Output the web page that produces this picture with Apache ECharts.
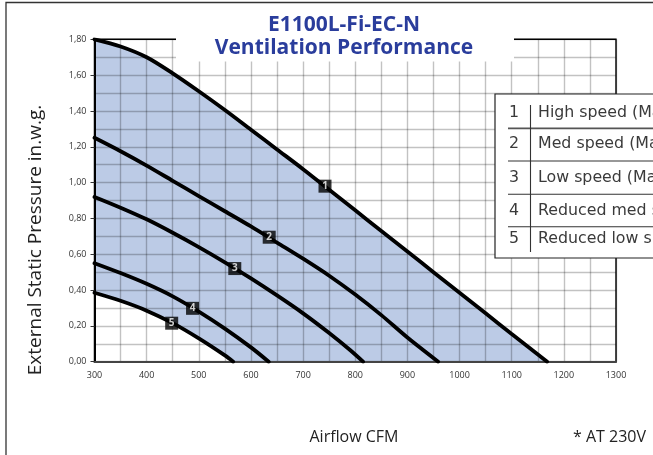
<!DOCTYPE html>
<html><head><meta charset="utf-8">
<script src="https://cdn.jsdelivr.net/npm/echarts@6/dist/echarts.min.js"></script>
<style>html,body{margin:0;padding:0;background:#fff}#c{width:653px;height:455px}</style>
</head><body><div id="c"></div>
<script>
// ---- data ----
const xMin = 300, xMax = 1300, xStep = 100;
const yMin = 0, yMax = 1.8, yStep = 0.2;
const curve1 = [[300,1.80],[350,1.76],[400,1.70],[450,1.61],[500,1.51],[550,1.405],[600,1.295],[650,1.185],[700,1.075],[750,0.96],[800,0.845],[850,0.73],[900,0.615],[950,0.50],[1000,0.385],[1050,0.27],[1100,0.155],[1168,0]];
const curve2 = [[300,1.25],[350,1.175],[400,1.095],[450,1.01],[500,0.925],[550,0.84],[600,0.755],[650,0.665],[700,0.575],[750,0.48],[800,0.375],[850,0.26],[900,0.135],[959,0]];
const curve3 = [[300,0.92],[350,0.86],[400,0.795],[450,0.72],[500,0.64],[550,0.555],[600,0.465],[650,0.37],[700,0.27],[750,0.16],[790,0.065],[815,0]];
const curve4 = [[300,0.55],[350,0.495],[400,0.435],[450,0.365],[500,0.28],[550,0.185],[600,0.08],[634,0]];
const curve5 = [[300,0.385],[350,0.34],[400,0.285],[450,0.215],[500,0.13],[550,0.035],[566,0]];
const markerNames = ['1','2','3','4','5'];
const markerX = [742,635,569,488,448];
const markerY = [0.98,0.695,0.52,0.298,0.215];
const legendNums = ['1','2','3','4','5'];
const legendTexts = ['High speed (Max. 10V)','Med speed (Max. 7V)','Low speed (Max. 5V)','Reduced med speed','Reduced low speed'];
const titleLines = ['E1100L-Fi-EC-N','Ventilation Performance'];
const yName = 'External Static Pressure in.w.g.';
const xName = 'Airflow CFM';
const note = '* AT 230V';

const FONT = '"Open Sans", "Noto Sans", sans-serif';
const LFONT = '15.8px "DejaVu Sans", sans-serif';
const gridColor = 'rgba(0,0,0,0.24)';
const chart = echarts.init(document.getElementById('c'), null, {renderer:'canvas'});
const curves = [curve1, curve2, curve3, curve4, curve5];

const series = [
  {type:'line', data:curve1, smooth:0.3, symbol:'none', silent:true, z:-2,
   lineStyle:{width:0, opacity:0}, areaStyle:{color:'#bccbe6', opacity:1}},
  {type:'line', data:curve5, smooth:0.3, symbol:'none', silent:true, z:-1,
   lineStyle:{width:0, opacity:0}, areaStyle:{color:'#ffffff', opacity:1}}
];
curves.forEach(c => series.push({type:'line', data:c, smooth:0.3, symbol:'none', z:3,
  lineStyle:{color:'#000', width:3.8, cap:'round'}}));
series.push({type:'scatter', z:6, symbol:'rect', symbolSize:13,
  itemStyle:{color:'#000'},
  data: markerNames.map((n,i)=>({name:n, value:[markerX[i], markerY[i]]})),
  label:{show:true, position:'inside', formatter:p=>p.name, color:'#fff', fontSize:10, fontWeight:'bold', fontFamily:FONT}});

const graphic = [];
// title background and texts
graphic.push({type:'rect', z:100, shape:{x:176, y:0, width:338, height:61.5}, style:{fill:'#fff'}});
graphic.push({type:'text', z:101, x:344, y:25, style:{text:titleLines[0], font:'bold 21px '+FONT, fill:'#2a3d9c', align:'center', verticalAlign:'middle'}});
graphic.push({type:'text', z:101, x:344, y:48.5, style:{text:titleLines[1], font:'bold 21px '+FONT, fill:'#2a3d9c', align:'center', verticalAlign:'middle'}});
// legend box
graphic.push({type:'rect', z:100, shape:{x:495, y:94, width:200, height:164}, style:{fill:'#fff', stroke:'#222', lineWidth:1.2}});
const rowY = [113, 144, 177.5, 211, 238.5];
const sepY = [128.3, 161, 194.3, 226.7];
sepY.forEach((y,i) => graphic.push({type:'line', z:101, shape:{x1:508, y1:y, x2:700, y2:y}, style:{stroke: i===0 ? '#555' : '#333', lineWidth: i===0 ? 1.8 : 1.1}}));
graphic.push({type:'line', z:101, shape:{x1:530.5, y1:105, x2:530.5, y2:252}, style:{stroke:'#333', lineWidth:1.1}});
legendNums.forEach((n,i) => {
  graphic.push({type:'text', z:102, x:514, y:rowY[i], style:{text:n, font:LFONT, fill:'#3a3a3a', align:'center', verticalAlign:'middle'}});
  graphic.push({type:'text', z:102, x:538, y:rowY[i], style:{text:legendTexts[i], font:LFONT, fill:'#3a3a3a', align:'left', verticalAlign:'middle'}});
});
// axis names
graphic.push({type:'text', z:100, x:36, y:240, rotation:Math.PI/2, style:{text:yName, font:'19px '+FONT, fill:'#222', align:'center', verticalAlign:'middle'}});
graphic.push({type:'text', z:100, x:354, y:437, style:{text:xName, font:'16px '+FONT, fill:'#222', align:'center', verticalAlign:'middle'}});
graphic.push({type:'text', z:100, x:573, y:437, style:{text:note, font:'16px '+FONT, fill:'#222', align:'left', verticalAlign:'middle'}});
// outer frame
graphic.push({type:'rect', z:110, shape:{x:6, y:2.5, width:800, height:600}, style:{fill:'none', stroke:'#333', lineWidth:1.3}});

chart.setOption({
  animation:false,
  backgroundColor:'#fff',
  grid:{left:94.5, right:37, top:39.3, bottom:93.3, show:true, borderColor:'#000', borderWidth:1.4, backgroundColor:'transparent'},
  xAxis:{type:'value', min:xMin, max:xMax, interval:xStep,
    axisLine:{show:true, lineStyle:{color:'#444', width:2}},
    axisTick:{show:false},
    axisLabel:{fontSize:9, color:'#333', margin:9, fontFamily:FONT, formatter:v=>String(v)},
    splitLine:{show:true, lineStyle:{color:gridColor, width:1.4}},
    minorTick:{show:false, splitNumber:2},
    minorSplitLine:{show:true, lineStyle:{color:gridColor, width:1.4}}},
  yAxis:{type:'value', min:yMin, max:yMax, interval:yStep,
    axisLine:{show:true, lineStyle:{color:'#000', width:2}},
    axisTick:{show:true, length:4, lineStyle:{color:'#333'}},
    axisLabel:{fontSize:9, color:'#333', margin:8, fontFamily:FONT, formatter:v=>v.toFixed(2).replace('.',',')},
    splitLine:{show:true, lineStyle:{color:gridColor, width:1.4}},
    minorTick:{show:false, splitNumber:2},
    minorSplitLine:{show:true, lineStyle:{color:gridColor, width:1.4}}},
  series: series,
  graphic: graphic
});
</script></body></html>
